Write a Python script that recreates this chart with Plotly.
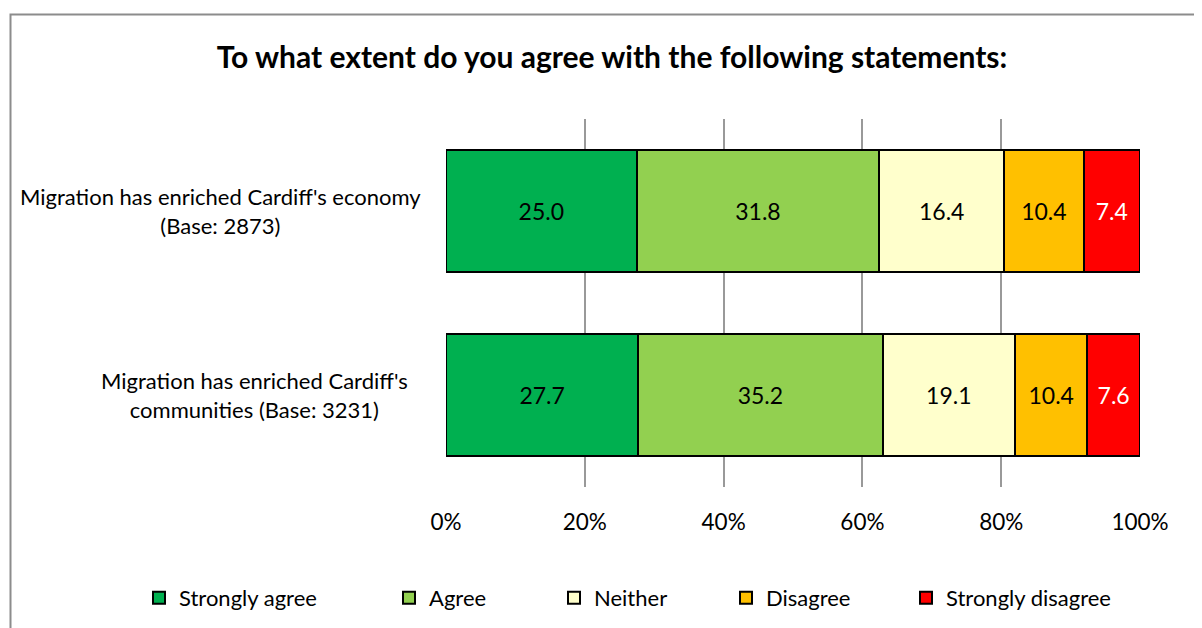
import plotly.graph_objects as go

categories = ["Migration has enriched Cardiff's economy<br>(Base: 2873)",
              "Migration has enriched Cardiff's<br>communities (Base: 3231)"]
series_names = ["Strongly agree", "Agree", "Neither", "Disagree", "Strongly disagree"]
strongly_agree = [25.0, 27.7]
agree = [31.8, 35.2]
neither = [16.4, 19.1]
disagree = [10.4, 10.4]
strongly_disagree = [7.4, 7.6]
series_values = [strongly_agree, agree, neither, disagree, strongly_disagree]
colors = ["#00B050", "#92D050", "#FFFFCC", "#FFC000", "#FF0000"]
text_colors = ["black", "black", "black", "black", "white"]
tick_vals = [0, 20, 40, 60, 80, 100]
tick_text = ["0%", "20%", "40%", "60%", "80%", "100%"]

W, H = 1202, 628
OX, OY = 8, 8  # page offset of the figure in the browser
FONT = "Lato"


def px(x):
    return (x - OX) / W


def py(y):
    return 1 - (y - OY) / H


fig = go.Figure()
legend_ids = ["legend", "legend2", "legend3", "legend4", "legend5"]
for name, vals, col, tc, lg in zip(series_names, series_values, colors, text_colors, legend_ids):
    fig.add_trace(go.Bar(
        y=categories, x=vals, name=name, orientation="h",
        marker=dict(color=col, line=dict(color="black", width=2)),
        text=[f"{v:.1f}" for v in vals], textposition="inside",
        insidetextanchor="middle", textangle=0,
        textfont=dict(color=tc, size=23, family=FONT),
        legend=lg, hoverinfo="skip",
    ))

legend_x = [139, 389, 554, 726, 906]
legend_layouts = {}
for lg, lx in zip(legend_ids, legend_x):
    legend_layouts[lg] = dict(x=px(lx), y=py(598), xanchor="left", yanchor="middle",
                              orientation="h", font=dict(size=22, family=FONT, color="black"),
                              bgcolor="rgba(0,0,0,0)", itemwidth=30)

fig.update_layout(
    width=W, height=H, barmode="stack", barnorm="percent", bargap=0.337,
    margin=dict(l=0, r=0, t=0, b=0, autoexpand=False),
    paper_bgcolor="white", plot_bgcolor="white",
    title=dict(text="<b>To what extent do you agree with the following statements:</b>",
               x=px(612), xanchor="center", y=py(57), yanchor="middle",
               font=dict(size=30, family=FONT, color="black")),
    xaxis=dict(domain=[px(446), px(1140)], range=[0, 100], tickvals=tick_vals, ticktext=tick_text,
               showgrid=True, gridcolor="#999999", gridwidth=1.5, zeroline=False, showline=False,
               ticks="", tickfont=dict(size=22.5, family=FONT, color="black"), ticklabelstandoff=19),
    yaxis=dict(domain=[py(487), py(119)], categoryorder="array",
               categoryarray=categories, autorange="reversed", showticklabels=False,
               showgrid=False, zeroline=False, showline=False),
    showlegend=True,
    **legend_layouts,
)

label_centers = [220, 254]
for cat, cx in zip(categories, label_centers):
    fig.add_annotation(text=cat, x=px(cx), xref="paper", y=cat, yref="y",
                       xanchor="center", yanchor="middle", align="center", showarrow=False,
                       font=dict(size=22, family=FONT, color="black"))

fig.add_shape(type="rect", xref="paper", yref="paper",
              x0=px(10.5), x1=1.05, y0=-0.05, y1=py(14.5),
              line=dict(color="#8c8c8c", width=2), fillcolor="rgba(0,0,0,0)", layer="below")

fig.write_html("out.html")
